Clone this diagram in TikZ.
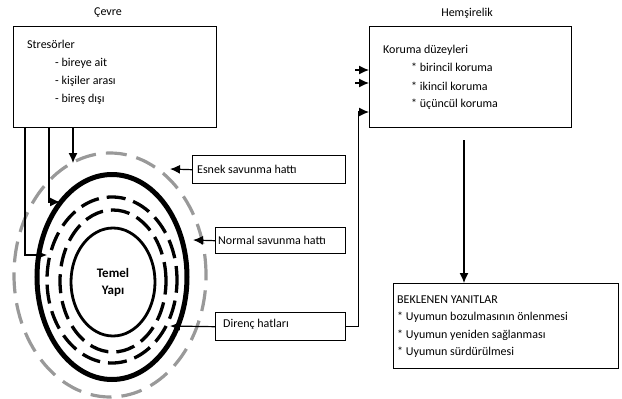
\documentclass[tikz,border=0pt]{standalone}
\usepackage{fontspec}
\setmainfont{Carlito}
\usetikzlibrary{arrows.meta,shapes.geometric}
\begin{document}
\begin{tikzpicture}[x=1pt,y=-1pt,
  box/.style={draw,line width=1.4pt,inner sep=0pt,anchor=north west},
  txt/.style={anchor=west,inner sep=0pt,font=\fontsize{12}{14}\selectfont},
  btxt/.style={anchor=west,inner sep=0pt,font=\fontsize{12}{14}\selectfont},
  ttl/.style={inner sep=0pt,font=\fontsize{12}{14}\selectfont},
  arr/.style={line width=1.2pt,-{Latex[length=10pt,width=9pt]}},
  ln/.style={line width=1.2pt}]
\useasboundingbox (0,0) rectangle (622,399);
% boxes
\node[box,minimum width=203pt,minimum height=101pt] (cevre) at (13,26) {};
\node[box,minimum width=202pt,minimum height=101pt] (koruma) at (369,26) {};
\node[box,minimum width=153pt,minimum height=28pt] (esnek) at (192,155) {};
\node[box,minimum width=130pt,minimum height=26pt] (normal) at (215,227) {};
\node[box,minimum width=130pt,minimum height=28pt] (direnc) at (215,312) {};
\node[box,minimum width=225pt,minimum height=85pt] (bek) at (393,283) {};
% titles
\node[ttl] (tcevre) at (108,13) {Çevre};
\node[ttl] (themsire) at (467,13) {Hemşirelik};
% texts
\node[txt] (s0) at (27,44) {Stresörler};
\node[txt] (s1) at (55,63) {- bireye ait};
\node[txt] (s2) at (55,81) {- kişiler arası};
\node[txt] (s3) at (55,99) {- bireş dışı};
\node[txt] (k0) at (383,50) {Koruma düzeyleri};
\node[txt] (k1) at (411,67) {* birincil koruma};
\node[txt] (k2) at (411,86) {* ikincil koruma};
\node[txt] (k3t) at (411,104) {* üçüncül koruma};
\node[txt] (e0) at (197,169) {Esnek savunma hattı};
\node[txt] (n0) at (218,240) {Normal savunma hattı};
\node[txt] (d0) at (223,324) {Direnç hatları};
\node[btxt] (b0) at (397,300) {BEKLENEN YANITLAR};
\node[btxt] (b1) at (397,317) {* Uyumun bozulmasının önlenmesi};
\node[btxt] (b2) at (397,335) {* Uyumun yeniden sağlanması};
\node[btxt] (b3) at (397,352) {* Uyumun sürdürülmesi};
% ellipses
\node[ellipse,draw=black!40,line width=3.2pt,dash pattern=on 21pt off 10pt,
  minimum width=192pt,minimum height=244pt,inner sep=0pt] (gray) at (110,275) {};
\node[ellipse,draw,line width=5pt,minimum width=150pt,minimum height=205pt,inner sep=0pt] (thick) at (112,277) {};
\node[ellipse,draw,line width=3.3pt,dash pattern=on 19pt off 8pt,dash phase=5pt,
  minimum width=130pt,minimum height=166pt,inner sep=0pt] (dash1) at (112,280) {};
\node[ellipse,draw,line width=3.3pt,dash pattern=on 19pt off 8pt,
  minimum width=106pt,minimum height=142pt,inner sep=0pt] (dash2) at (113,281) {};
\node[ellipse,draw,line width=2.8pt,minimum width=84pt,minimum height=108pt,inner sep=0pt,
  align=center,font=\bfseries\fontsize{13}{17}\selectfont] (core) at (113,282) {Temel\\Yapı};
% tips
\coordinate (t1) at (47,255);
\coordinate (t2) at (60,202);
\coordinate (t3) at (73,163);
\coordinate (tE) at (170,169);
\coordinate (tN) at (193,240);
\coordinate (tD) at (170,326);
\coordinate (ka) at (355,70);
\coordinate (kb) at (355,83);
\coordinate (kc) at (369,112);
\coordinate (kd) at (464,140);
% connectors
\draw[arr] ([xshift=12pt]cevre.south west) |- (t1);
\draw[arr] ([xshift=36pt]cevre.south west) |- (t2);
\draw[arr] (t3 |- cevre.south) -- (t3);
\draw[arr] (esnek.west) -- (tE);
\draw[arr] (normal.west) -- (tN);
\draw[arr] (direnc.west) -- (tD);
\draw[arr] (direnc.east) -- ++(12,0) |- (kc);
\draw[arr] (ka) -- (koruma.west |- ka);
\draw[arr] (kb) -- (koruma.west |- kb);
\draw[arr] (kd) -- (kd |- bek.north);
\end{tikzpicture}
\end{document}
